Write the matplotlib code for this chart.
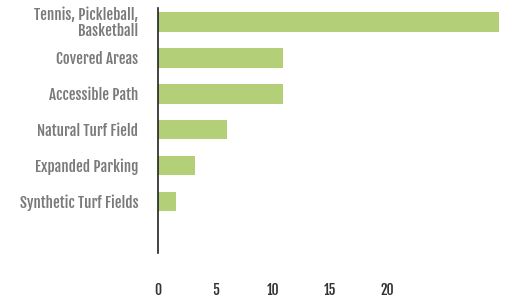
import matplotlib
matplotlib.use('Agg')
import matplotlib.pyplot as plt

categories = ['Tennis, Pickleball,\nBasketball', 'Covered Areas', 'Accessible Path',
              'Natural Turf Field', 'Expanded Parking', 'Synthetic Turf Fields']
values = [29.7, 10.9, 10.9, 6.0, 3.2, 1.6]
xticks = [0, 5, 10, 15, 20]

plt.rcParams['font.family'] = ['Fjalla One', 'DejaVu Sans']

fig = plt.figure(figsize=(5.06, 3.02), dpi=100)
ax = fig.add_axes([0.312, 0.162, 0.688, 0.812])

ypos = list(range(len(categories)))
ax.barh(ypos, values, height=0.55, color='#b3cf78')

ax.set_ylim(6.44, -0.39)
ax.set_xlim(0, 30.3)
ax.set_yticks(ypos)
ax.set_yticklabels(categories, fontsize=10.8, color='#7a7a7a', linespacing=0.95)
ax.set_xticks(xticks)
ax.set_xticklabels([str(t) for t in xticks], fontsize=10, color='#333333')
ax.tick_params(axis='both', length=0)
ax.tick_params(axis='x', pad=21)
ax.tick_params(axis='y', pad=14)

for side in ['top', 'right', 'bottom']:
    ax.spines[side].set_visible(False)
ax.spines['left'].set_color('#222222')
ax.spines['left'].set_linewidth(1.2)

fig.savefig('out.png', dpi=100)
